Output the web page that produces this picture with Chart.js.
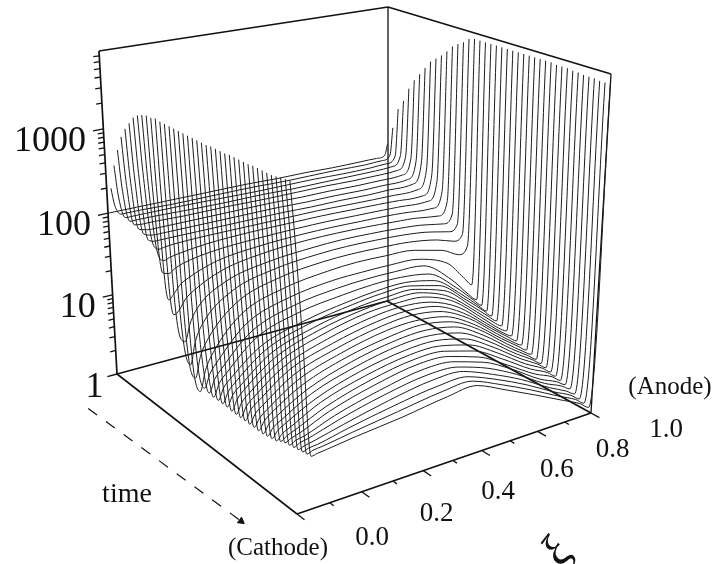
<!DOCTYPE html>
<html>
<head>
<meta charset="utf-8">
<style>
  html, body { margin: 0; padding: 0; background: #fff; }
  canvas { display: block; }
</style>
<script src="https://cdn.jsdelivr.net/npm/chart.js@4/dist/chart.umd.min.js"></script>
</head>
<body>
<canvas id="waterfall" width="715" height="564"></canvas>
<script>
// position across the gap (cathode to anode), shared by all the curves
const xi = [0, .01, .03, .05, .07, .1, .2, .35, .5, .6, .7, .8, .9, .96, .99, 1];

// log10 of the plotted quantity, one array per time step
const c00 = [2.00,2.00,2.00,2.00,2.00,2.00,2.00,2.00,2.00,1.99,1.99,1.98,1.98,1.98,2.00,2.14];
const c01 = [2.33,2.12,2.00,2.00,2.00,2.00,1.99,1.99,1.99,1.98,1.98,1.98,1.97,1.98,2.03,2.38];
const c02 = [2.63,2.25,1.99,1.99,1.99,1.99,1.99,1.98,1.97,1.97,1.97,1.96,1.96,1.97,2.05,2.65];
const c03 = [2.84,2.35,1.98,1.98,1.98,1.98,1.97,1.96,1.96,1.95,1.95,1.95,1.95,1.96,2.08,2.78];
const c04 = [3.02,2.45,1.97,1.96,1.96,1.96,1.95,1.95,1.94,1.94,1.94,1.93,1.93,1.94,2.10,2.96];
const c05 = [3.14,2.50,1.95,1.93,1.92,1.92,1.92,1.92,1.92,1.91,1.91,1.90,1.90,1.91,2.10,3.09];
const c06 = [3.23,2.55,1.93,1.90,1.89,1.89,1.89,1.89,1.89,1.88,1.88,1.87,1.87,1.88,2.10,3.19];
const c07 = [3.32,2.60,1.89,1.86,1.86,1.86,1.86,1.86,1.86,1.85,1.85,1.84,1.84,1.85,2.10,3.29];
const c08 = [3.37,2.65,1.88,1.80,1.81,1.82,1.83,1.83,1.83,1.83,1.82,1.81,1.80,1.81,2.05,3.39];
const c09 = [3.40,2.60,1.80,1.70,1.72,1.74,1.78,1.80,1.80,1.80,1.79,1.78,1.76,1.76,2.00,3.45];
const c10 = [3.42,2.50,1.60,1.58,1.62,1.66,1.72,1.75,1.76,1.76,1.75,1.74,1.72,1.72,1.95,3.51];
const c11 = [3.42,2.40,1.32,1.38,1.46,1.52,1.64,1.70,1.72,1.72,1.71,1.70,1.67,1.66,1.85,3.58];
const c12 = [3.44,2.30,1.18,1.22,1.32,1.40,1.56,1.65,1.68,1.68,1.67,1.65,1.62,1.59,1.75,3.66];
const c13 = [3.43,2.30,1.00,0.88,1.08,1.25,1.47,1.58,1.62,1.63,1.62,1.60,1.56,1.52,1.62,3.71];
const c14 = [3.43,2.30,0.90,0.64,0.90,1.10,1.38,1.52,1.57,1.58,1.57,1.55,1.50,1.45,1.52,3.75];
const c15 = [3.43,2.30,0.75,0.52,0.76,0.95,1.28,1.45,1.51,1.52,1.51,1.49,1.43,1.36,1.42,3.81];
const c16 = [3.43,2.35,0.65,0.40,0.63,0.82,1.18,1.36,1.43,1.45,1.44,1.42,1.33,1.22,1.30,3.83];
const c17 = [3.43,2.40,0.75,0.48,0.63,0.76,1.10,1.28,1.35,1.36,1.36,1.34,1.20,0.96,0.84,3.83];
const c18 = [3.43,2.40,0.90,0.46,0.60,0.72,1.04,1.22,1.29,1.31,1.31,1.29,1.02,0.78,0.68,3.83];
const c19 = [3.43,2.40,0.95,0.45,0.59,0.70,1.00,1.17,1.24,1.27,1.27,1.22,0.95,0.74,0.64,3.83];
const c20 = [3.43,2.50,1.10,0.45,0.58,0.68,0.94,1.10,1.19,1.23,1.24,1.17,0.90,0.70,0.60,3.83];
const c21 = [3.43,2.50,1.14,0.45,0.57,0.67,0.93,1.10,1.19,1.23,1.23,1.14,0.86,0.67,0.57,3.83];
const c22 = [3.43,2.55,1.18,0.45,0.57,0.66,0.92,1.09,1.19,1.22,1.22,1.11,0.82,0.63,0.54,3.83];
const c23 = [3.43,2.55,1.22,0.44,0.56,0.66,0.91,1.09,1.19,1.22,1.21,1.07,0.78,0.59,0.51,3.83];
const c24 = [3.44,2.60,1.26,0.44,0.56,0.65,0.90,1.08,1.19,1.21,1.19,1.04,0.74,0.55,0.48,3.83];
const c25 = [3.44,2.60,1.30,0.44,0.55,0.64,0.88,1.06,1.17,1.20,1.16,1.00,0.70,0.52,0.45,3.83];
const c26 = [3.44,2.62,1.33,0.44,0.55,0.63,0.87,1.04,1.15,1.18,1.14,0.96,0.67,0.50,0.42,3.83];
const c27 = [3.44,2.65,1.36,0.44,0.54,0.62,0.85,1.02,1.13,1.16,1.11,0.93,0.64,0.47,0.40,3.83];
const c28 = [3.45,2.67,1.39,0.44,0.53,0.61,0.83,1.00,1.11,1.13,1.08,0.89,0.61,0.45,0.37,3.83];
const c29 = [3.45,2.70,1.42,0.44,0.53,0.61,0.81,0.98,1.08,1.11,1.05,0.86,0.58,0.42,0.35,3.83];
const c30 = [3.45,2.72,1.45,0.44,0.53,0.60,0.79,0.96,1.06,1.08,1.02,0.82,0.55,0.40,0.32,3.83];
const c31 = [3.45,2.75,1.48,0.45,0.53,0.59,0.78,0.94,1.04,1.05,0.98,0.78,0.52,0.38,0.30,3.82];
const c32 = [3.45,2.78,1.51,0.46,0.53,0.59,0.76,0.92,1.01,1.02,0.94,0.74,0.49,0.36,0.28,3.82];
const c33 = [3.46,2.80,1.54,0.47,0.53,0.58,0.75,0.90,0.99,0.99,0.90,0.70,0.46,0.34,0.26,3.82];
const c34 = [3.46,2.82,1.57,0.50,0.54,0.58,0.73,0.88,0.97,0.96,0.86,0.66,0.43,0.32,0.24,3.81];
const c35 = [3.46,2.85,1.60,0.52,0.55,0.58,0.72,0.86,0.95,0.93,0.82,0.62,0.40,0.30,0.22,3.81];
const c36 = [3.46,2.88,1.63,0.53,0.56,0.58,0.70,0.83,0.92,0.90,0.79,0.60,0.37,0.27,0.20,3.80];
const c37 = [3.46,2.90,1.67,0.54,0.57,0.59,0.69,0.81,0.89,0.87,0.75,0.57,0.35,0.25,0.18,3.80];
const c38 = [3.47,2.92,1.70,0.55,0.57,0.59,0.67,0.78,0.86,0.85,0.71,0.54,0.33,0.22,0.15,3.80];
const c39 = [3.48,2.95,1.73,0.56,0.58,0.59,0.66,0.75,0.82,0.82,0.68,0.51,0.31,0.20,0.12,3.79];
const c40 = [3.49,2.98,1.77,0.57,0.59,0.60,0.65,0.72,0.79,0.80,0.65,0.48,0.29,0.18,0.10,3.79];
const c41 = [3.50,3.00,1.80,0.58,0.59,0.60,0.64,0.69,0.76,0.78,0.62,0.45,0.27,0.16,0.08,3.79];

const curves = [c00,c01,c02,c03,c04,c05,c06,c07,c08,c09,c10,c11,c12,c13,c14,c15,c16,c17,c18,c19,c20,
  c21,c22,c23,c24,c25,c26,c27,c28,c29,c30,c31,c32,c33,c34,c35,c36,c37,c38,c39,c40,c41];

// axis labels
const valueLabels = ["1", "10", "100", "1000"];
const xiLabels = ["0.0", "0.2", "0.4", "0.6", "0.8", "1.0"];
const logTop = 3.9;   // 8000 at the top of the box

// corners of the box on the page: [xi=0,t=0], [xi=1,t=0], [xi=1,t=1], [xi=0,t=1]
const floorQuad = [[117,374],[387,301],[591,413],[297,514]];
const topQuad = [[99,51],[388,7],[611,74],[289,140]];

// unit square -> quad
function homography(q) {
  const [x0,y0] = q[0], [x1,y1] = q[1], [x2,y2] = q[2], [x3,y3] = q[3];
  const dx1 = x1-x2, dx2 = x3-x2, sx = x0-x1+x2-x3;
  const dy1 = y1-y2, dy2 = y3-y2, sy = y0-y1+y2-y3;
  const den = dx1*dy2 - dx2*dy1;
  const g = (sx*dy2 - dx2*sy)/den, h = (dx1*sy - sx*dy1)/den;
  const a = x1-x0+g*x1, b = x3-x0+h*x3, d = y1-y0+g*y1, e = y3-y0+h*y3;
  return (u, v) => {
    const w = g*u + h*v + 1;
    return [(a*u + b*v + x0)/w, (d*u + e*v + y0)/w];
  };
}
const floorAt = homography(floorQuad);
const topAt = homography(topQuad);

// (xi, time, log10 value) to the plane of the chart scales
function project(u, v, z) {
  const f0 = z/logTop;
  const f = f0*(0.94 + 0.06*f0);
  const p = floorAt(u, v), q = topAt(u, v);
  return { x: p[0] + (q[0]-p[0])*f, y: p[1] + (q[1]-p[1])*f };
}

// the values were read with straight edges, this undoes the foreshortening for the curves
const warpXi = s => s*(0.902 + 0.098*s);
const warpT = s => s*(1.186 - 0.186*s);

function axisLine(a, b, width) {
  return {
    data: [project(...a), project(...b)],
    borderColor: "#111", borderWidth: width || 1.6, pointRadius: 0, showLine: true
  };
}

const datasets = [];

// the curves
curves.forEach((values, i) => {
  const t = warpT(i/(curves.length-1));
  datasets.push({
    data: values.map((z, k) => project(warpXi(xi[k]), t, z)),
    borderColor: "#1c1c1c", borderWidth: 1, pointRadius: 0, showLine: true,
    cubicInterpolationMode: "monotone"
  });
});

// box
datasets.push(axisLine([0,0,0],[1,0,0]));
datasets.push(axisLine([1,0,0],[1,1,0], 1.8));
datasets.push(axisLine([0,0,0],[0,1,0]));
datasets.push(axisLine([0,1,0],[1,1,0], 1.8));
datasets.push(axisLine([0,0,0],[0,0,logTop], 1.7));
datasets.push(axisLine([1,0,0],[1,0,logTop], 1.3));
datasets.push(axisLine([1,1,0],[1,1,logTop], 1.3));
datasets.push(axisLine([0,0,logTop],[1,0,logTop], 1.4));
datasets.push(axisLine([1,0,logTop],[1,1,logTop], 1.6));

// value ticks on the left edge
for (let d = 0; d <= 3; d++) {
  for (let m = 1; m <= 9; m++) {
    const z = d + Math.log10(m);
    if (z > logTop + 0.001) continue;
    datasets.push(axisLine([0,0,z],[m === 1 ? -0.032 : -0.018,0,z], 1.3));
  }
}
// xi ticks on the front edge
for (let k = 0; k <= 10; k++) {
  datasets.push(axisLine([k/10,1,0],[k/10, k%2 === 0 ? 1.035 : 1.018,0], 1.3));
}

// dashed time arrow
datasets.push({
  data: [project(-0.173,0.16,0), project(-0.135,0.95,0)],
  borderColor: "#111", borderWidth: 1.2, borderDash: [11,11], pointRadius: 0, showLine: true
});
datasets.push({
  data: [project(-0.135,0.95,0)],
  backgroundColor: "#111", borderColor: "#111", pointStyle: "triangle",
  pointRadius: 4, pointRotation: 127, showLine: false
});

// labels are anchored on the axes, then shifted off them
const labelsPlugin = {
  id: "labels",
  afterDraw(chart) {
    const c = chart.ctx, sx = chart.scales.x, sy = chart.scales.y;
    const put = (txt, x, y, font, align) => {
      c.font = font;
      c.textAlign = align || "center";
      c.textBaseline = "alphabetic";
      c.fillStyle = "#111";
      c.fillText(txt, x, y);
    };
    c.save();
    valueLabels.forEach((txt, d) => {
      const p = project(-0.032, 0, d);
      put(txt, sx.getPixelForValue(p.x) - (d === 0 ? 4 : 7), sy.getPixelForValue(p.y) + 20, "36px 'Liberation Serif'", "right");
    });
    xiLabels.forEach((txt, k) => {
      const p = project(k/5, 1, 0);
      put(txt, sx.getPixelForValue(p.x) + 75, sy.getPixelForValue(p.y) + 31 - k*1.4, "27px 'Liberation Serif'");
    });
    put("(Anode)", 670, 394, "25px 'Liberation Serif'");
    put("(Cathode)", 278, 555, "25px 'Liberation Serif'");
    put("time", 127, 502, "28px 'Liberation Serif'");
    c.translate(558, 553);
    c.rotate(-0.9);
    put("\u03BE", 0, 12, "italic 46px 'Liberation Serif'");
    c.restore();
  }
};

new Chart(document.getElementById("waterfall"), {
  type: "scatter",
  data: { datasets: datasets },
  options: {
    responsive: false,
    animation: false,
    layout: { padding: 0, autoPadding: false },
    plugins: { legend: { display: false }, tooltip: { enabled: false } },
    scales: {
      x: { type: "linear", min: 0, max: 715, display: false },
      y: { type: "linear", min: 0, max: 564, reverse: true, display: false }
    }
  },
  plugins: [labelsPlugin]
});
</script>
</body>
</html>
